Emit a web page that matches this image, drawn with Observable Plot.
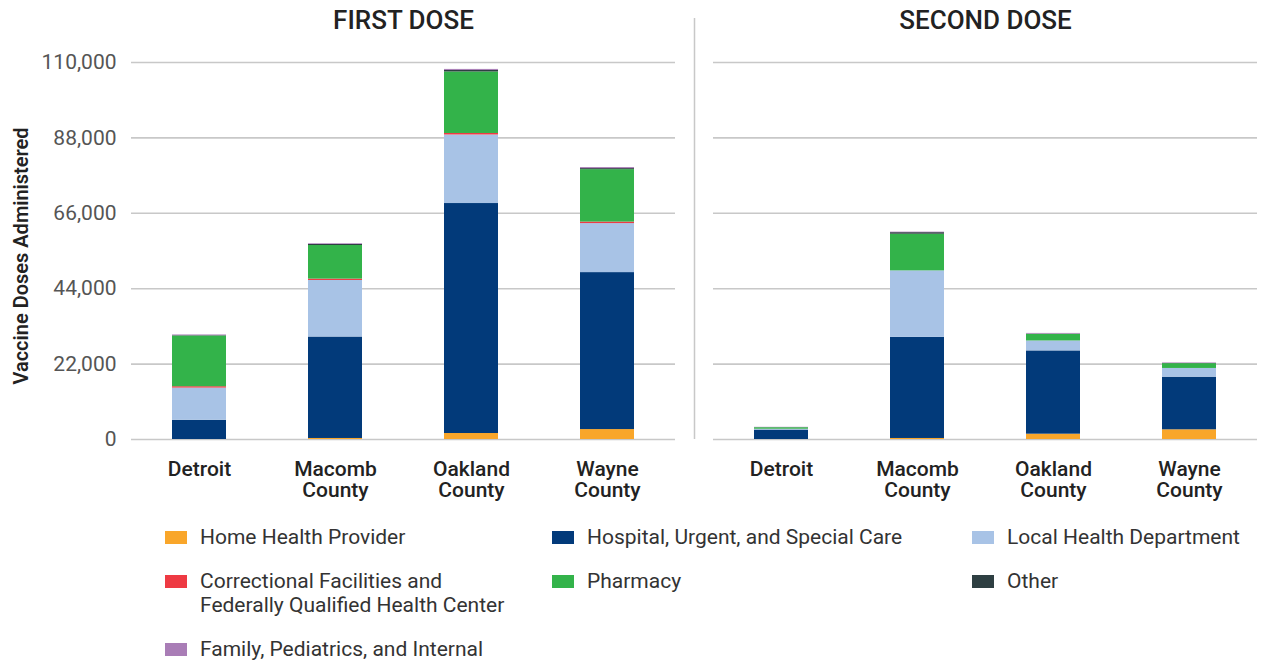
<!DOCTYPE html>
<html>
<head>
<meta charset="utf-8">
<script src="https://cdn.jsdelivr.net/npm/d3@7"></script>
<script src="https://cdn.jsdelivr.net/npm/@observablehq/plot@0.6"></script>
<style>
  html, body { margin: 0; padding: 0; background: #fff; }
  #chart { width: 1261px; font-family: Roboto, "Noto Sans", sans-serif; }
  .legend {
    display: grid;
    grid-template-columns: 387px 420px auto;
    row-gap: 20px;
    padding-left: 165px;
    margin-top: 20px;
    font-family: Roboto, sans-serif;
    font-size: 21px;
    line-height: 24px;
    color: #333;
  }
  .legend .item { display: flex; align-items: flex-start; }
  .legend .sw { flex: 0 0 22px; height: 13px; margin-top: 6px; margin-right: 13px; }
</style>
</head>
<body>
<div id="chart"></div>
<script>
const regions = ["Detroit", "Macomb County", "Oakland County", "Wayne County"];
const regionLabels = ["Detroit", "Macomb\nCounty", "Oakland\nCounty", "Wayne\nCounty"];
const doses = ["FIRST DOSE", "SECOND DOSE"];
const categories = [
  "Home Health Provider",
  "Hospital, Urgent, and Special Care",
  "Local Health Department",
  "Correctional Facilities and Federally Qualified Health Center",
  "Pharmacy",
  "Other",
  "Family, Pediatrics, and Internal"
];
const legendLabels = [
  "Home Health Provider",
  "Hospital, Urgent, and Special Care",
  "Local Health Department",
  "Correctional Facilities and\nFederally Qualified Health Center",
  "Pharmacy",
  "Other",
  "Family, Pediatrics, and Internal"
];
const colors = ["#F9A62A", "#023A7A", "#A8C3E6", "#EE3A43", "#33B34A", "#2E3F42", "#A97DB6"];

// values per category, in region order
const firstHomeHealth   = [0, 300, 1750, 2900];
const firstHospital     = [5600, 29600, 67100, 45800];
const firstLocal        = [9400, 16500, 20000, 14300];
const firstCorrectional = [400, 400, 440, 440];
const firstPharmacy     = [14800, 9800, 17950, 15300];
const firstOther        = [100, 300, 440, 300];
const firstFamily       = [200, 200, 300, 300];

const secondHomeHealth   = [0, 300, 1550, 2830];
const secondHospital     = [2750, 29500, 24300, 15350];
const secondLocal        = [250, 19400, 2900, 2550];
const secondCorrectional = [0, 0, 0, 0];
const secondPharmacy     = [450, 10700, 1950, 1400];
const secondOther        = [0, 450, 50, 50];
const secondFamily       = [100, 150, 200, 150];

const yTicks = [0, 22000, 44000, 66000, 88000, 110000];

const series = {
  "FIRST DOSE": [firstHomeHealth, firstHospital, firstLocal, firstCorrectional, firstPharmacy, firstOther, firstFamily],
  "SECOND DOSE": [secondHomeHealth, secondHospital, secondLocal, secondCorrectional, secondPharmacy, secondOther, secondFamily]
};

const data = [];
for (const dose of doses) {
  categories.forEach((cat, ci) => {
    regions.forEach((region, ri) => {
      data.push({dose, category: cat, region, value: series[dose][ci][ri]});
    });
  });
}

const chart = Plot.plot({
  width: 1261,
  height: 505,
  marginLeft: 130,
  marginRight: 3,
  marginTop: 62,
  marginBottom: 66,
  style: {fontFamily: "Roboto, sans-serif", fontSize: "21px", background: "white", overflow: "visible"},
  fx: {domain: doses, paddingInner: 0.065, paddingOuter: 0, axis: null, label: null},
  x: {domain: regions, paddingInner: 0.6, paddingOuter: 0.3, axis: null, label: null},
  y: {domain: [0, 110000], label: null, axis: null},
  color: {domain: categories, range: colors},
  marks: [
    Plot.gridY(yTicks, {stroke: "#c8c8c8", strokeOpacity: 1, strokeWidth: 1.6}),
    Plot.axisY(yTicks, {
      tickSize: 0, tickPadding: 15, tickFormat: d3.format(","), label: null,
      fill: "#555", fontSize: 21
    }),
    Plot.axisX(regions, {
      tickSize: 0, tickPadding: 22, label: null,
      tickFormat: (d) => regionLabels[regions.indexOf(d)],
      fill: "#222", fontSize: 21, fontWeight: 500, lineHeight: 1.0
    }),
    Plot.barY(data, {fx: "dose", x: "region", y: "value", fill: "category"}),
    Plot.text(doses, {fx: (d) => d, text: (d) => d, frameAnchor: "top", dy: -52, fontSize: 26, fontWeight: 500, fill: "#222"}),
    Plot.text([{dose: "FIRST DOSE", label: "Vaccine Doses Administered"}], {
      fx: "dose", text: "label", frameAnchor: "left", textAnchor: "middle", lineAnchor: "middle",
      rotate: -90, dx: -110, dy: 5,
      fontSize: 20, fontWeight: 600, fill: "#222"
    }),
    Plot.ruleX([{dose: "SECOND DOSE", region: "Detroit"}], {
      fx: "dose", x: "region", dx: -87, insetTop: -44, stroke: "#c8c8c8", strokeWidth: 1.5
    })
  ]
});

const root = document.getElementById("chart");
root.appendChild(chart);

const legend = document.createElement("div");
legend.className = "legend";
categories.forEach((cat, i) => {
  const item = document.createElement("div");
  item.className = "item";
  const sw = document.createElement("span");
  sw.className = "sw";
  sw.style.background = colors[i];
  const label = document.createElement("span");
  label.style.whiteSpace = "pre";
  label.textContent = legendLabels[i];
  item.appendChild(sw);
  item.appendChild(label);
  legend.appendChild(item);
});
root.appendChild(legend);
</script>
</body>
</html>
